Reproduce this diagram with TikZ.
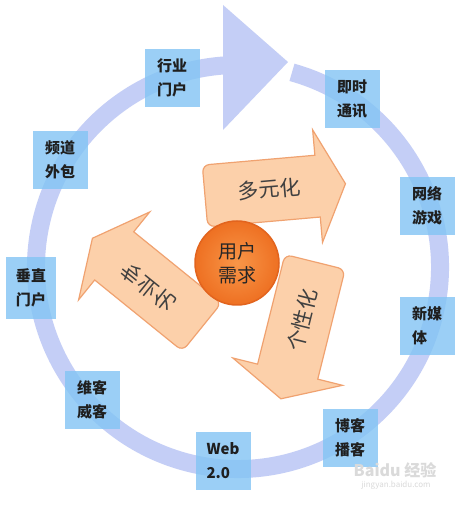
\documentclass[tikz,border=0pt]{standalone}
\usepackage{fontspec}
\setmainfont{Noto Sans CJK SC}
\begin{document}
\begin{tikzpicture}[x=1pt,y=1pt]
\definecolor{ringc}{RGB}{196,206,246}
\definecolor{boxc}{RGB}{130,196,244}
\definecolor{arwfill}{RGB}{252,208,170}
\definecolor{arwdraw}{RGB}{240,162,112}
\definecolor{orin}{RGB}{248,150,72}
\definecolor{orout}{RGB}{238,112,34}
\definecolor{ordraw}{RGB}{226,100,30}
\definecolor{wm}{RGB}{218,218,218}
\tikzset{
  lbl/.style={fill=boxc, fill opacity=0.8, text opacity=1, minimum width=55, minimum height=58,
    inner sep=0, align=left, text=black!88, font=\bfseries\fontsize{15}{24}\selectfont},
  arw/.style={fill=arwfill, draw=arwdraw, line width=1.2},
  atext/.style={inner sep=0, text=black!75, font=\fontsize{21}{24}\selectfont},
}
\useasboundingbox (0,0) rectangle (469,505);
\fill[white] (0,0) rectangle (469,505);
% outer ring with arrow head
\draw[ringc, line width=18] (238,238) ++(74.5:202) arc[start angle=74.5, end angle=-266, radius=202];
\fill[ringc] (223,500) -- (288,443) -- (223,375) -- cycle;
% label boxes
\node[lbl] (hy) at (172,427) {行业\\门户};
\node[lbl] (js) at (352,406) {即时\\通讯};
\node[lbl] (pd) at (60,345) {频道\\外包};
\node[lbl] (wl) at (427,299) {网络\\游戏};
\node[lbl, minimum width=50, minimum height=62] (cz) at (31,217) {垂直\\门户};
\node[lbl] (xm) at (427,179) {新媒\\体};
\node[lbl] (wk) at (92,105) {维客\\威客};
\node[lbl] (bk) at (350,67) {博客\\播客};
\node[lbl] (web) at (223,44) {Web\\2.0};
% inner arrows
\begin{scope}[shift={(205,309)}, rotate=5]
\path[arw] (60,31) [rounded corners=7] -- (0,31) -- (0,-31) -- (60,-31) [sharp corners] -- (113,-31) -- (113,-56.5) -- (141,0) -- (113,56.5) -- (113,31) -- cycle;
\end{scope}
\begin{scope}[shift={(202,178)}, rotate=141]
\path[arw] (60,31) [rounded corners=7] -- (0,31) -- (0,-31) -- (60,-31) [sharp corners] -- (113,-31) -- (113,-56.5) -- (141,0) -- (113,56.5) -- (113,31) -- cycle;
\end{scope}
\begin{scope}[shift={(315,243)}, rotate=-104]
\path[arw] (60,31) [rounded corners=7] -- (0,31) -- (0,-31) -- (60,-31) [sharp corners] -- (113,-31) -- (113,-56.5) -- (141,0) -- (113,56.5) -- (113,31) -- cycle;
\end{scope}
\node[atext, rotate=5] (t1) at (269,316) {多元化};
\node[atext, rotate=-39, yscale=-1] (t2) at (148,218) {专业化};
\node[atext, rotate=76] (t3) at (302,185) {个性化};
% centre
\node[circle, minimum size=84, inner sep=0, inner color=orin, outer color=orout, draw=ordraw, line width=1.5,
  align=center, text=black!85, font=\fontsize{19}{24}\selectfont] (user) at (237,242) {用户\\需求};
% watermark
\node[text=wm, font=\bfseries\fontsize{16}{16}\selectfont, inner sep=0] (wm1) at (395,35) {Baidu 经验};
\node[text=wm, font=\fontsize{8}{8}\selectfont, inner sep=0] (wm2) at (396,20) {jingyan.baidu.com};
\end{tikzpicture}
\end{document}
